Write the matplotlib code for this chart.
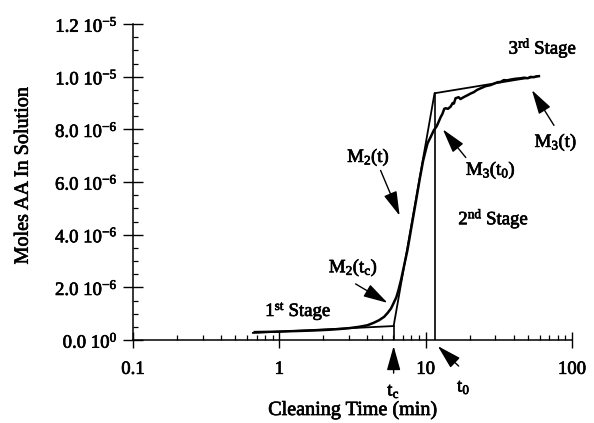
import numpy as np
import matplotlib
matplotlib.use("Agg")
import matplotlib.pyplot as plt
import matplotlib.patheffects as pe
from matplotlib.text import Text
from matplotlib.ticker import FixedLocator, LogLocator, MultipleLocator, NullFormatter

plt.rcParams["font.family"] = ["Liberation Serif", "DejaVu Serif"]
plt.rcParams["mathtext.fontset"] = "custom"
plt.rcParams["mathtext.rm"] = "Liberation Serif"
plt.rcParams["mathtext.it"] = "Liberation Serif:italic"
plt.rcParams["mathtext.bf"] = "Liberation Serif:bold"
plt.rcParams["axes.unicode_minus"] = False

# measured cleaning curve (time in min, moles in micromoles)
time_min = [0.68, 0.85, 1.0, 1.3, 1.7, 2.2, 2.62, 3.0, 3.5, 4.0, 4.4, 4.8, 5.2,
            5.5, 5.8, 6.0, 6.3, 6.5, 6.8, 7.07, 7.5, 8.0, 8.6, 9.1, 9.6, 10.0,
            10.3, 10.8, 11.36, 11.9, 12.3, 12.65, 13.0, 13.4, 13.7, 14.2, 14.8,
            15.3, 15.6, 16.0, 16.8, 17.3, 17.9, 18.6, 19.4, 20.3, 21.3, 22.5,
            23.8, 25.7, 27.8, 29.5, 31.0, 32.5, 34.2, 36.0, 38.1, 41.0, 44.8,
            47.0, 49.9, 52.0, 55.0, 57.0, 59.4]
moles_umol = [0.30, 0.31, 0.32, 0.34, 0.36, 0.39, 0.42, 0.45, 0.50, 0.56, 0.65,
              0.75, 0.88, 1.03, 1.20, 1.37, 1.62, 1.87, 2.30, 2.74, 3.40, 4.30,
              5.30, 6.10, 6.80, 7.20, 7.47, 7.70, 7.96, 8.12, 8.30, 8.46, 8.58,
              8.78, 8.80, 8.78, 8.86, 9.00, 8.98, 9.18, 9.22, 9.15, 9.20, 9.25,
              9.30, 9.36, 9.41, 9.50, 9.56, 9.64, 9.68, 9.74, 9.79, 9.80, 9.87,
              9.86, 9.89, 9.92, 9.94, 9.96, 9.94, 9.99, 9.98, 10.01, 10.02]

# three-stage model
t_c = 6.04
t_0 = 11.5
fit_time = [0.66, t_c, t_0, 59.4]
fit_umol = [0.27, 0.53, 9.37, 10.02]

x_ticks = [0.1, 1, 10, 100]
x_ticklabels = ["0.1", "1", "10", "100"]
y_ticks = [0, 2e-6, 4e-6, 6e-6, 8e-6, 1e-5, 1.2e-5]
y_ticklabels = [r"0.0 10$^{\mathregular{0}}$", r"2.0 10$^{\mathregular{-6}}$",
                r"4.0 10$^{\mathregular{-6}}$", r"6.0 10$^{\mathregular{-6}}$",
                r"8.0 10$^{\mathregular{-6}}$", r"1.0 10$^{\mathregular{-5}}$",
                r"1.2 10$^{\mathregular{-5}}$"]

moles = np.array(moles_umol) * 1e-6
fit = np.array(fit_umol) * 1e-6

fig = plt.figure(figsize=(5.94, 4.23), dpi=100)
ax = fig.add_axes([133 / 594, 83 / 423, 439 / 594, 316 / 423])

ax.plot(time_min, moles, color="black", lw=1.8)
ax.plot(fit_time, fit, color="black", lw=1.3)
ax.plot([t_c, t_c], [0, fit[1]], color="black", lw=1.2)
ax.plot([t_0, t_0], [0, fit[2]], color="black", lw=1.2)

ax.set_xscale("log")
ax.set_xlim(0.1, 100)
ax.set_ylim(0, 1.2e-5)
ax.xaxis.set_major_locator(FixedLocator(x_ticks))
ax.set_xticklabels(x_ticklabels)
ax.xaxis.set_minor_locator(LogLocator(base=10, subs=np.arange(2, 10)))
ax.xaxis.set_minor_formatter(NullFormatter())
ax.set_yticks(y_ticks)
ax.set_yticklabels(y_ticklabels)
ax.yaxis.set_minor_locator(MultipleLocator(0.5e-6))

for side in ["top", "right"]:
    ax.spines[side].set_visible(False)
for side in ["left", "bottom"]:
    ax.spines[side].set_linewidth(1.1)

ax.tick_params(axis="y", which="major", direction="inout", length=14, width=1.0,
               pad=4, labelsize=13.5)
ax.tick_params(axis="x", which="major", direction="inout", length=12, width=1.0,
               pad=9, labelsize=13.5)
ax.tick_params(which="minor", direction="in", length=3.5, width=0.9)

ax.text(-0.25, 0.519, "Moles AA In Solution", transform=ax.transAxes,
        rotation=90, ha="center", va="center", fontsize=14.5)
ax.text(0.5, -0.222, "Cleaning Time (min)", transform=ax.transAxes,
        ha="center", va="center", fontsize=14.5)

arrow = dict(arrowstyle="-|>,head_length=1.5,head_width=0.42", color="black",
             lw=1.0, mutation_scale=10, shrinkA=0, shrinkB=0)
u = 1e-6

ax.text(63.3, 11.09 * u, r"3$^{\mathregular{rd}}$ Stage", ha="center", va="center",
        fontsize=13.5)
ax.text(29.2, 4.61 * u, r"2$^{\mathregular{nd}}$ Stage", ha="center", va="center",
        fontsize=13.5)
ax.text(1.35, 1.10 * u, r"1$^{\mathregular{st}}$ Stage", ha="center", va="center",
        fontsize=13.5)

ax.annotate("", xy=(53.2, 9.49 * u), xytext=(75.3, 8.15 * u), arrowprops=arrow,
            annotation_clip=False)
ax.text(77.7, 7.50 * u, r"$\mathregular{M_3(t)}$", ha="center", va="center",
        fontsize=13.5)

ax.annotate("", xy=(13.1, 8.0 * u), xytext=(18.8, 6.93 * u), arrowprops=arrow)
ax.text(27.9, 6.44 * u, r"$\mathregular{M_3(t_0)}$", ha="center", va="center",
        fontsize=13.5)

ax.annotate("", xy=(6.64, 4.72 * u), xytext=(4.92, 6.44 * u), arrowprops=arrow)
ax.text(4.07, 6.93 * u, r"$\mathregular{M_2(t)}$", ha="center", va="center",
        fontsize=13.5)

ax.annotate("", xy=(5.49, 1.41 * u), xytext=(3.32, 2.13 * u), arrowprops=arrow)
ax.text(3.21, 2.74 * u, r"$\mathregular{M_2(t_c)}$", ha="center", va="center",
        fontsize=13.5)

ax.annotate("", xy=(t_c, -0.23 * u), xytext=(t_c, -1.26 * u), arrowprops=arrow,
            annotation_clip=False)
ax.text(t_c, -1.95 * u, r"$\mathregular{t_c}$", ha="center", va="center",
        fontsize=13.5, clip_on=False)

ax.annotate("", xy=(12.1, -0.23 * u), xytext=(16.8, -0.99 * u), arrowprops=arrow,
            annotation_clip=False)
ax.text(18.2, -1.80 * u, r"$\mathregular{t_0}$", ha="center", va="center",
        fontsize=13.5, clip_on=False)

# slightly heavier lettering, like a photocopied figure
for txt in fig.findobj(Text):
    txt.set_path_effects([pe.withStroke(linewidth=0.5, foreground="black")])

fig.savefig("out.png", dpi=100)
